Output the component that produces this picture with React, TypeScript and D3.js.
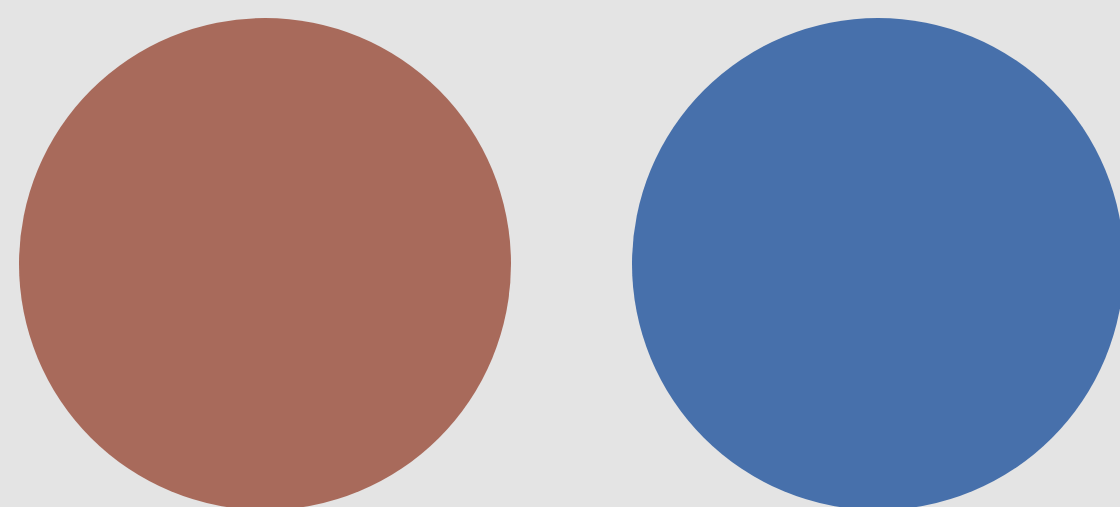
import React from 'react';
import * as d3 from 'd3';

const categories: string[] = ['A', 'B'];
const values: number[] = [1, 1];
const colors: string[] = ['#a86a5b', '#4770ab'];

const width = 1120;
const height = 507;

function App() {
    const x = d3.scalePoint<string>()
        .domain(categories)
        .range([265, 878]);

    const r = d3.scaleSqrt()
        .domain([0, d3.max(values) as number])
        .range([0, 246]);

    const cy = 264;

    return (
        <svg
            width={width}
            height={height}
            style={{ position: 'fixed', top: 0, left: 0, background: '#e4e4e4' }}
        >
            <rect width={width} height={height} fill="#e4e4e4" />
            {categories.map((c, i) => (
                <circle
                    key={c}
                    cx={x(c)}
                    cy={cy}
                    r={r(values[i])}
                    fill={colors[i]}
                />
            ))}
        </svg>
    );
}

export default App;
